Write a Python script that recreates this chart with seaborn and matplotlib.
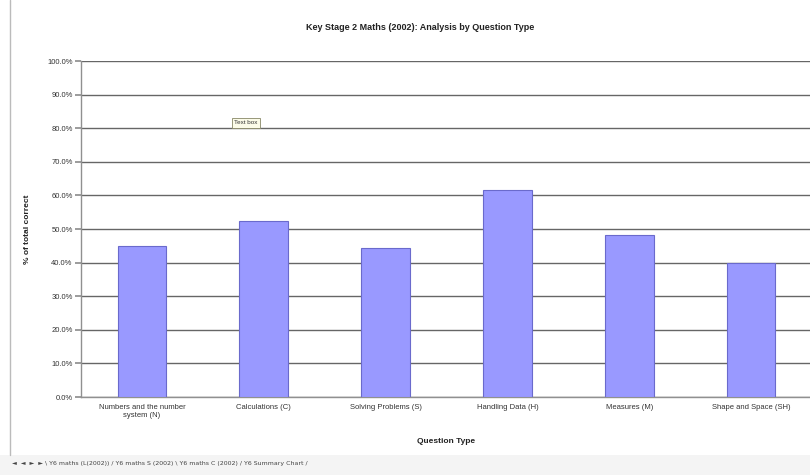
import matplotlib
matplotlib.use("Agg")
import matplotlib.pyplot as plt
import seaborn as sns
import pandas as pd
from matplotlib.ticker import PercentFormatter

categories = ["Numbers and the number\nsystem (N)", "Calculations (C)", "Solving Problems (S)",
              "Handling Data (H)", "Measures (M)", "Shape and Space (SH)"]
values = [44.9, 52.4, 44.4, 61.6, 48.2, 39.9]

df = pd.DataFrame({"cat": categories, "val": values})

sns.set_theme(style="white")
plt.rcParams['font.family'] = ['Liberation Sans', 'DejaVu Sans']

W, H = 810, 475
fig = plt.figure(figsize=(W/100, H/100), dpi=100)
fig.patch.set_facecolor("white")
ax = fig.add_axes([81/W, 1-397/H, 731/W, 336/H])

sns.barplot(data=df, x="cat", y="val", ax=ax, color="#9999ff", width=0.4,
            edgecolor="#6a6acc", linewidth=0.8, saturation=1, zorder=3)

ax.set_ylim(0, 100)
ax.set_xlim(-0.5, 5.5)
ax.set_yticks(range(0, 101, 10))
ax.yaxis.set_major_formatter(PercentFormatter(decimals=1))
ax.grid(axis="y", color="#666666", linewidth=1.0, zorder=0)
for s in ["top", "right"]:
    ax.spines[s].set_visible(False)
for s in ["left", "bottom"]:
    ax.spines[s].set_color("#909090")
    ax.spines[s].set_linewidth(1.0)
ax.tick_params(axis="y", length=4, color="#909090", labelsize=5.5, labelcolor="#333333", pad=2, left=True)
ax.tick_params(axis="x", length=0, labelsize=5.5, labelcolor="#333333", pad=5)
ax.set_xlabel("Question Type", fontsize=6, fontweight="bold", color="#222222", labelpad=14)
ax.set_ylabel("% of total correct", fontsize=6, fontweight="bold", color="#222222")
ax.yaxis.set_label_coords((31 - 81) / 731, 0.5)

fig.text(420/W, 1-28/H, "Key Stage 2 Maths (2002): Analysis by Question Type",
         ha="center", va="center", fontsize=6.5, fontweight="bold", color="#222222")

# small text box
fig.text(246/W, 1-123/H, "Text box", ha="center", va="center", fontsize=4.5, color="#333333",
         bbox=dict(boxstyle="square,pad=0.35", fc="#fbfbe8", ec="#888866", lw=0.6))

# left border line of sheet
fig.add_artist(plt.Line2D([10/W, 10/W], [1-455/H, 1.0], color="#bbbbbb", lw=1.0))
# bottom sheet-tab strip
fig.add_artist(plt.Rectangle((0, 0), 1, 1-455/H, transform=fig.transFigure,
                             fc="#f4f4f4", ec="none"))
fig.text(12/W, 1-463/H,
         "\u25c4  \u25c4  \u25ba  \u25ba \\ Y6 maths (L(2002)) / Y6 maths S (2002) \\ Y6 maths C (2002) / Y6 Summary Chart /",
         ha="left", va="center", fontsize=4.5, color="#444444", family=['DejaVu Sans'])

fig.savefig("out.png", dpi=100)
